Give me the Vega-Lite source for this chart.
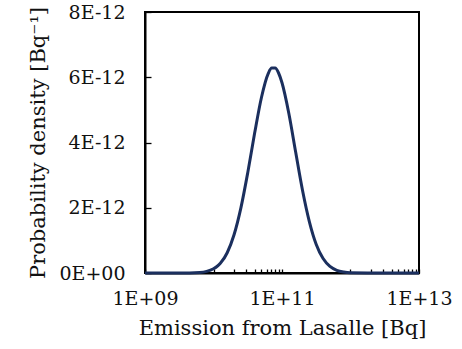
{
  "$schema": "https://vega.github.io/schema/vega-lite/v6.json",
  "width": 274,
  "height": 261,
  "autosize": {"type": "none"},
  "padding": {"left": 145, "top": 12, "right": 43, "bottom": 76},
  "background": "white",
  "config": {
    "view": {"stroke": "black", "strokeWidth": 2},
    "axis": {
      "labelFont": "DejaVu Serif",
      "titleFont": "DejaVu Serif",
      "labelColor": "#111111",
      "titleColor": "#111111",
      "labelFontSize": 19,
      "titleFontSize": 21,
      "titleFontWeight": "normal",
      "domainColor": "black",
      "domainWidth": 2,
      "tickColor": "black",
      "tickWidth": 1.3,
      "grid": false
    }
  },
  "data": {
    "values": [
      {"x": 1e9, "y": 0},
      {"x": 3.162e9, "y": 0},
      {"x": 6.31e9, "y": 1.8e-14},
      {"x": 7.943e9, "y": 5.0e-14},
      {"x": 1e10, "y": 1.29e-13},
      {"x": 1.122e10, "y": 1.98e-13},
      {"x": 1.259e10, "y": 2.97e-13},
      {"x": 1.585e10, "y": 6.21e-13},
      {"x": 1.995e10, "y": 1.172e-12},
      {"x": 2.512e10, "y": 1.997e-12},
      {"x": 3.162e10, "y": 3.075e-12},
      {"x": 3.981e10, "y": 4.28e-12},
      {"x": 5.012e10, "y": 5.38e-12},
      {"x": 6.31e10, "y": 6.12e-12},
      {"x": 7.079e10, "y": 6.28e-12},
      {"x": 7.943e10, "y": 6.28e-12},
      {"x": 8.913e10, "y": 6.13e-12},
      {"x": 1e11, "y": 5.83e-12},
      {"x": 1.259e11, "y": 4.89e-12},
      {"x": 1.585e11, "y": 3.70e-12},
      {"x": 1.995e11, "y": 2.53e-12},
      {"x": 2.512e11, "y": 1.57e-12},
      {"x": 3.162e11, "y": 8.74e-13},
      {"x": 3.981e11, "y": 4.42e-13},
      {"x": 5.012e11, "y": 2.01e-13},
      {"x": 6.31e11, "y": 8.3e-14},
      {"x": 7.943e11, "y": 3.1e-14},
      {"x": 1e12, "y": 1.04e-14},
      {"x": 3.162e12, "y": 0},
      {"x": 1e13, "y": 0}
    ]
  },
  "mark": {"type": "line", "color": "#1b2f5e", "strokeWidth": 3, "interpolate": "monotone", "clip": false},
  "encoding": {
    "x": {
      "field": "x",
      "type": "quantitative",
      "scale": {"type": "log", "domain": [1e9, 1e13], "nice": false},
      "axis": {
        "title": "Emission  from Lasalle  [Bq]",
        "values": [1e9, 1e10, 2e10, 3e10, 4e10, 5e10, 6e10, 7e10, 8e10, 9e10, 1e11, 1e12, 2e12, 3e12, 4e12, 5e12, 6e12, 7e12, 8e12, 9e12, 1e13],
        "labelExpr": "datum.value == 1e9 ? '1E+09' : datum.value == 1e11 ? '1E+11' : datum.value == 1e13 ? '1E+13' : ''",
        "tickSize": -4,
        "labelPadding": 20,
        "titlePadding": 9,
        "labelFlush": false,
        "labelOverlap": false
      }
    },
    "y": {
      "field": "y",
      "type": "quantitative",
      "scale": {"domain": [0, 8e-12], "nice": false},
      "axis": {
        "title": "Probability density [Bq⁻¹]",
        "values": [0, 2e-12, 4e-12, 6e-12, 8e-12],
        "labelExpr": "datum.value == 0 ? '0E+00' : format(datum.value * 1e12, 'd') + 'E-12'",
        "tickSize": -6,
        "labelPadding": 26,
        "titlePadding": 10,
        "labelFlush": false,
        "labelOverlap": false
      }
    }
  }
}
